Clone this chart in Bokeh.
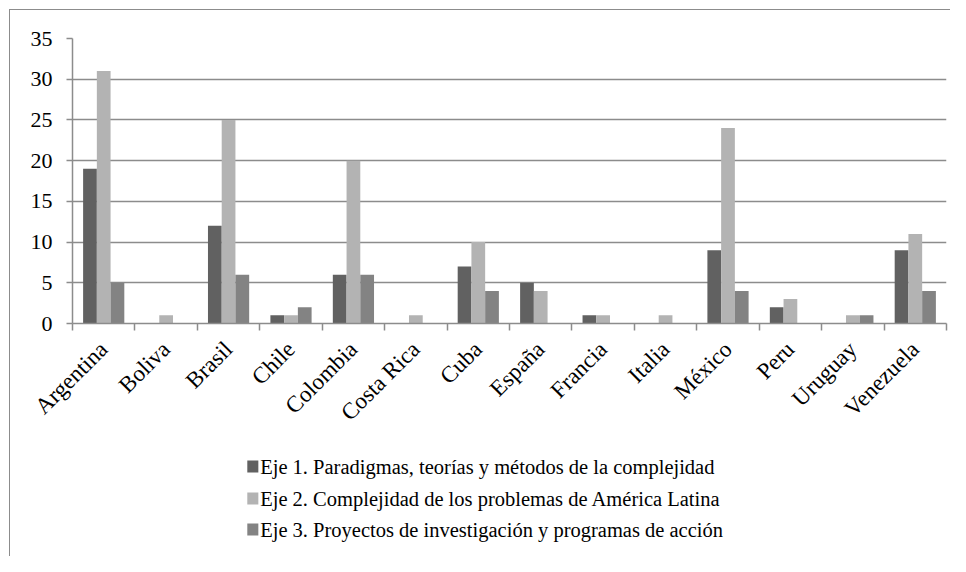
import math
from bokeh.plotting import figure
from bokeh.layouts import column
from bokeh.models import Range1d, FixedTicker, ColumnDataSource
from bokeh.core.properties import value
from bokeh.embed import file_html
from bokeh.resources import INLINE

countries = ["Argentina", "Boliva", "Brasil", "Chile", "Colombia", "Costa Rica", "Cuba",
             "España", "Francia", "Italia", "México", "Peru", "Uruguay", "Venezuela"]
eje1 = [19, 0, 12, 1, 6, 0, 7, 5, 1, 0, 9, 2, 0, 9]
eje2 = [31, 1, 25, 1, 20, 1, 10, 4, 1, 1, 24, 3, 1, 11]
eje3 = [5, 0, 6, 2, 6, 0, 4, 0, 0, 0, 4, 0, 1, 4]
series_names = ["Eje 1. Paradigmas, teorías y métodos de la complejidad",
                "Eje 2. Complejidad de los problemas de América Latina",
                "Eje 3. Proyectos de investigación y programas de acción"]
colors = ["#616161", "#b3b3b3", "#838383"]
y_ticks = [0, 5, 10, 15, 20, 25, 30, 35]

FONT = "Liberation Serif, serif"
GRID = "#8c8c8c"
W = 950
H1 = 450
H2 = 106

line_bg = "linear-gradient(#8c8c8c, #8c8c8c)"
styles1 = {"background-image": f"{line_bg}, {line_bg}",
           "background-size": "1px 100%, 100% 1px",
           "background-position": "9px 9px, 9px 9px",
           "background-repeat": "no-repeat"}
styles2 = {"background-image": line_bg,
           "background-size": "1px 100%",
           "background-position": "9px 0px",
           "background-repeat": "no-repeat"}

p = figure(width=W, height=H1, output_backend="svg", toolbar_location=None,
           x_range=Range1d(0, len(countries)), y_range=Range1d(0, 35),
           min_border_left=72, min_border_right=W - 946, min_border_top=38,
           min_border_bottom=H1 - 323)
p.outline_line_color = None
p.border_fill_color = None
p.background_fill_color = "#ffffff"
p.styles = styles1

centers = [i + 0.5 for i in range(len(countries))]
offsets = [-0.22, 0.0, 0.22]
for vals, off, col in zip([eje1, eje2, eje3], offsets, colors):
    src = ColumnDataSource(dict(x=[c + off for c in centers], top=vals))
    p.vbar(x="x", top="top", bottom=0, width=0.22, source=src,
           fill_color=col, line_color=None)

# grid
p.xgrid.visible = False
p.ygrid.ticker = FixedTicker(ticks=y_ticks)
p.ygrid.grid_line_color = GRID
p.ygrid.grid_line_width = 1.5

# y axis
p.yaxis.ticker = FixedTicker(ticks=y_ticks)
p.yaxis.axis_line_color = GRID
p.yaxis.axis_line_width = 1.5
p.yaxis.major_tick_line_color = GRID
p.yaxis.major_tick_line_width = 1.5
p.yaxis.major_tick_out = 6
p.yaxis.major_tick_in = 0
p.yaxis.minor_tick_line_color = None
p.yaxis.major_label_standoff = 14
p.yaxis.major_label_text_font = FONT
p.yaxis.major_label_text_font_size = "22px"
p.yaxis.major_label_text_color = "#000000"

# x axis: labels at category centres, ticks at category boundaries
p.xaxis.ticker = FixedTicker(ticks=centers, minor_ticks=list(range(len(countries) + 1)))
p.xaxis.major_label_overrides = {c: name for c, name in zip(centers, countries)}
p.xaxis.major_label_orientation = math.pi / 4
p.xaxis.axis_line_color = GRID
p.xaxis.axis_line_width = 1.5
p.xaxis.major_tick_line_color = None
p.xaxis.major_tick_out = 0
p.xaxis.major_tick_in = 0
p.xaxis.minor_tick_line_color = GRID
p.xaxis.minor_tick_line_width = 1.5
p.xaxis.minor_tick_out = 7
p.xaxis.minor_tick_in = 0
p.xaxis.major_label_standoff = 15
p.xaxis.major_label_text_font = FONT
p.xaxis.major_label_text_font_size = "23px"
p.xaxis.major_label_text_color = "#000000"

# legend panel (pixel coordinates, y downwards)
leg = figure(width=W, height=H2, output_backend="svg", toolbar_location=None,
             x_range=Range1d(0, W), y_range=Range1d(H2, 0),
             min_border_left=0, min_border_right=0, min_border_top=0,
             min_border_bottom=0, x_axis_type=None, y_axis_type=None)
leg.outline_line_color = None
leg.border_fill_color = None
leg.background_fill_color = None
leg.grid.visible = False
leg.styles = styles2

row_y = [466 - H1, 498 - H1, 529 - H1]
leg_src = ColumnDataSource(dict(x=[196] * 3, y=row_y, tx=[204] * 3,
                                color=colors, label=series_names))
leg.rect(x="x", y="y", width=12, height=12, fill_color="color", line_color=None,
         source=leg_src)
leg.text(x="tx", y="y", text="label", source=leg_src, text_font=value(FONT),
         text_font_size="20.5px", text_color="#000000", text_baseline="middle",
         text_align="left")

layout = column(p, leg, spacing=0)
open("out.html", "w").write(file_html(layout, INLINE))
